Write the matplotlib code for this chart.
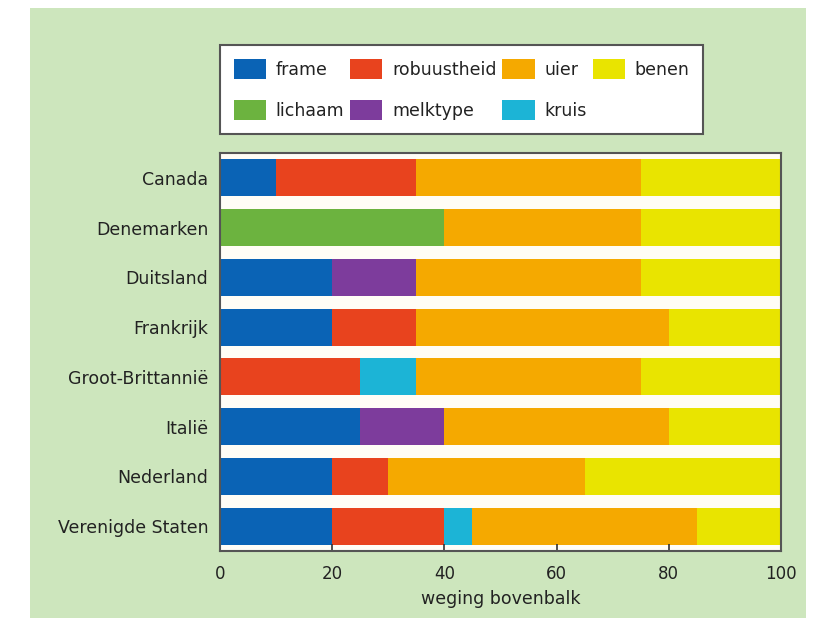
import numpy as np
import matplotlib.pyplot as plt
from matplotlib.patches import Rectangle, Patch

# data
countries = ["Canada", "Denemarken", "Duitsland", "Frankrijk",
             "Groot-Brittannië", "Italië", "Nederland", "Verenigde Staten"]

frame = [10, 0, 20, 20, 0, 25, 20, 20]
robuustheid = [25, 0, 0, 15, 25, 0, 10, 20]
lichaam = [0, 40, 0, 0, 0, 0, 0, 0]
melktype = [0, 0, 15, 0, 0, 15, 0, 0]
kruis = [0, 0, 0, 0, 10, 0, 0, 5]
uier = [40, 35, 40, 45, 40, 40, 35, 40]
benen = [25, 25, 25, 20, 25, 20, 35, 15]

# drawing order along each bar
series = [
    ("frame", frame, "#0a63b5"),
    ("robuustheid", robuustheid, "#e8431e"),
    ("lichaam", lichaam, "#6cb33f"),
    ("melktype", melktype, "#7d3c9c"),
    ("kruis", kruis, "#1cb4d6"),
    ("uier", uier, "#f5a900"),
    ("benen", benen, "#e9e400"),
]

# legend order as in the picture (row by row, 4 columns)
legend_rows = ["frame", "robuustheid", "uier", "benen",
               "lichaam", "melktype", "kruis"]


def draw_chart(save_path):
    fig = plt.figure(figsize=(8.23, 6.18), dpi=100, facecolor="white")

    # green backdrop
    fig.patches.append(Rectangle((30 / 823, 0), 776 / 823, 610 / 618,
                                 transform=fig.transFigure,
                                 facecolor="#cde6bd", edgecolor="none",
                                 zorder=-10))

    ax = fig.add_axes([220 / 823, 1 - 551 / 618, 561 / 823, 398 / 618])
    ax.set_facecolor("#fffdf6")

    y = np.arange(len(countries))
    left = np.zeros(len(countries))
    colors = {}
    for name, values, color in series:
        values = np.array(values, dtype=float)
        ax.barh(y, values, left=left, height=0.74, color=color,
                edgecolor="none")
        left += values
        colors[name] = color

    ax.set_xlim(0, 100)
    ax.set_ylim(len(countries) - 0.5, -0.5)
    ax.set_yticks(y)
    ax.set_yticklabels(countries)
    ax.set_xticks([0, 20, 40, 60, 80, 100])

    ax.tick_params(axis="y", length=0, pad=8.5, labelsize=12.5,
                   labelcolor="#222222")
    ax.tick_params(axis="x", direction="in", length=5, width=1.2,
                   color="#333333", pad=10, labelsize=12,
                   labelcolor="#222222")
    for spine in ax.spines.values():
        spine.set_color("#555555")
        spine.set_linewidth(1.5)

    ax.set_xlabel("weging bovenbalk", fontsize=12.5, color="#222222",
                  labelpad=5)

    # matplotlib fills legend columns first, so reorder for row-wise layout
    ncol = 4
    nrow = 2
    ordered = []
    for c in range(ncol):
        for r in range(nrow):
            i = r * ncol + c
            if i < len(legend_rows):
                ordered.append(legend_rows[i])
    handles = [Patch(facecolor=colors[n], edgecolor="none") for n in ordered]

    leg = fig.legend(handles, ordered, ncol=ncol,
                     loc="upper left",
                     bbox_to_anchor=(220 / 823, 1 - 45 / 618, 483 / 823, 0),
                     mode="expand", borderaxespad=0, fontsize=12.5,
                     handlelength=1.85, handleheight=1.4,
                     handletextpad=0.55, columnspacing=0.8,
                     labelspacing=1.2, borderpad=0.8,
                     fancybox=False, framealpha=1)
    leg.get_frame().set_edgecolor("#555555")
    leg.get_frame().set_linewidth(1.5)
    for t in leg.get_texts():
        t.set_color("#222222")

    fig.savefig(save_path, dpi=100, facecolor=fig.get_facecolor())


if __name__ == "__main__":
    draw_chart("out.png")
